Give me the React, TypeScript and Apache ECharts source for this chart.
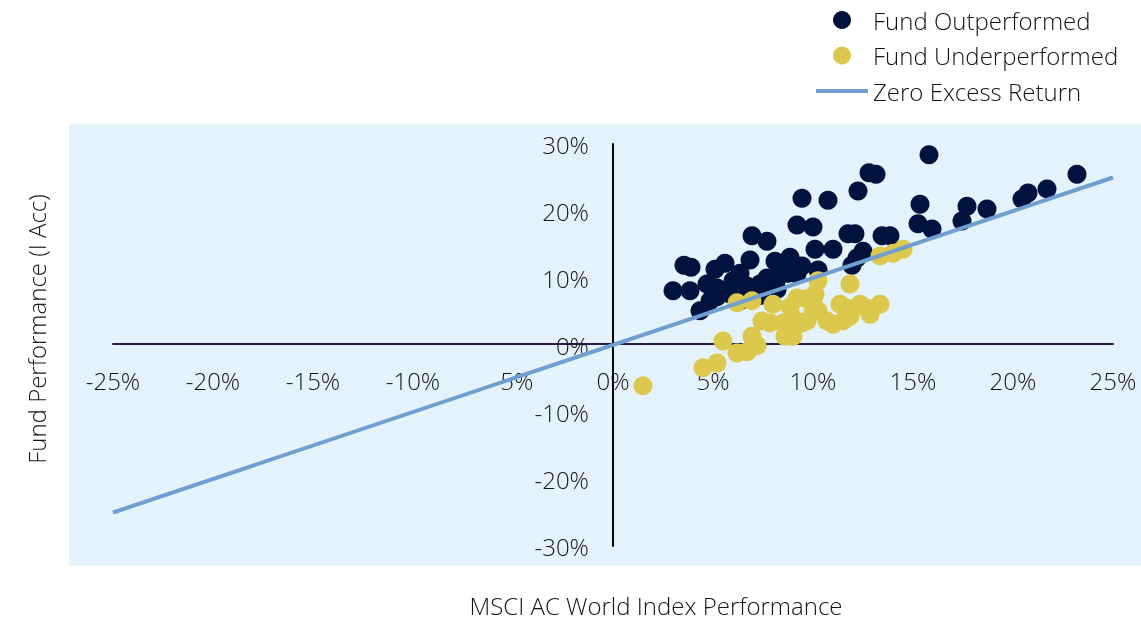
import React, { useEffect, useRef } from "react";
import * as echarts from "echarts";

const outperformed: [number, number][] = [
  [15.8, 28.4], [12.8, 25.7], [13.15, 25.5], [9.45, 21.9], [10.75, 21.6], [12.25, 23.0],
  [15.35, 21.0], [17.7, 20.7], [18.7, 20.3], [23.2, 25.5], [21.7, 23.3], [20.75, 22.7],
  [20.45, 21.8], [17.45, 18.5], [15.25, 18.1], [15.95, 17.3], [9.2, 17.9], [10.0, 17.6],
  [6.95, 16.3], [7.7, 15.5], [11.75, 16.6], [12.1, 16.6], [13.45, 16.3], [13.85, 16.3],
  [12.5, 14.0], [12.2, 13.0], [11.95, 11.9], [10.1, 14.3], [11.0, 14.3], [3.55, 11.9],
  [3.9, 11.6], [3.0, 8.1], [3.85, 8.1], [5.1, 11.3], [5.6, 12.2], [6.85, 12.7],
  [8.1, 12.5], [8.85, 13.1], [9.45, 11.8], [10.25, 11.2], [4.7, 9.1], [5.2, 8.5],
  [6.0, 9.6], [6.7, 8.8], [7.35, 9.1], [8.2, 9.9], [8.75, 10.7], [9.2, 10.6],
  [4.35, 5.1], [4.85, 6.6], [5.2, 7.2], [5.85, 7.6], [6.35, 6.6], [7.35, 7.4],
  [8.2, 8.3], [7.7, 10.0], [7.35, 8.5], [6.35, 10.7],
];

const underperformed: [number, number][] = [
  [1.5, -6.1], [4.5, -3.4], [5.2, -2.7], [5.5, 0.6], [6.2, -1.2], [6.7, -1.0],
  [6.95, 1.3], [7.2, -0.1], [6.2, 6.3], [6.95, 6.6], [7.45, 3.6], [7.85, 3.3],
  [8.0, 6.1], [8.5, 3.3], [8.85, 5.7], [9.45, 3.3], [9.7, 6.9], [10.0, 5.1],
  [8.6, 1.3], [9.0, 1.3], [10.25, 9.6], [11.85, 9.1], [13.35, 6.1], [9.2, 7.0],
  [10.0, 6.6], [11.35, 6.1], [12.35, 6.1], [9.0, 4.0], [10.25, 5.1], [10.7, 3.6],
  [11.5, 3.6], [9.7, 3.6], [11.0, 3.1], [12.7, 5.5], [11.7, 5.5], [12.85, 4.6],
  [11.85, 4.3], [13.35, 13.3], [14.0, 13.7], [14.5, 14.3], [10.1, 7.6],
];

const zeroExcess: [number, number][] = [[-25, -25], [25, 25]];

const FONT = "'Open Sans', 'Liberation Sans', sans-serif";
const TEXT = "#141414";
const FS = 24;

export default function App() {
  const ref = useRef<HTMLDivElement>(null);
  useEffect(() => {
    if (!ref.current) return;
    const chart = echarts.init(ref.current, undefined, { renderer: "svg" });
    chart.setOption({
      animation: false,
      textStyle: { fontFamily: FONT },
      graphic: [
        {
          type: "rect",
          z: -10,
          silent: true,
          shape: { x: 69, y: 124, width: 1072, height: 442 },
          style: { fill: "#e4f3fb" },
        },
        {
          type: "text",
          x: 656,
          y: 605,
          style: {
            text: "MSCI AC World Index Performance",
            fontSize: FS,
            lineHeight: 24,
            fontFamily: FONT,
            fontWeight: 300,
            fill: TEXT,
            align: "center",
            verticalAlign: "middle",
          },
        },
        {
          type: "text",
          x: 36,
          y: 329,
          rotation: Math.PI / 2,
          style: {
            text: "Fund Performance (I Acc)",
            fontSize: FS,
            lineHeight: 24,
            fontFamily: FONT,
            fontWeight: 300,
            fill: TEXT,
            align: "center",
            verticalAlign: "middle",
          },
        },
      ],
      legend: {
        orient: "vertical",
        left: 809,
        top: 3,
        itemWidth: 52,
        itemHeight: 18,
        itemGap: 11.5,
        textStyle: {
          fontSize: FS,
          lineHeight: 24,
          fontFamily: FONT,
          fontWeight: 300,
          color: TEXT,
        },
        data: [
          { name: "Fund Outperformed", icon: "circle" },
          { name: "Fund Underperformed", icon: "circle" },
          {
            name: "Zero Excess Return",
            itemStyle: { opacity: 0 },
            lineStyle: { width: 4, color: "#6f9ecf" },
          },
        ],
      },
      grid: { left: 113, right: 28, top: 144, bottom: 74 },
      xAxis: {
        type: "value",
        min: -25,
        max: 25,
        interval: 5,
        offset: -202,
        splitLine: { show: false },
        axisTick: { show: false },
        axisLine: { onZero: false, lineStyle: { color: "#2d1b45", width: 2 } },
        axisLabel: {
          formatter: (v: number) => v + "%",
          fontSize: FS,
          fontFamily: FONT,
          fontWeight: 300,
          color: TEXT,
          margin: 24,
        },
      },
      yAxis: {
        type: "value",
        min: -30,
        max: 30,
        interval: 10,
        offset: -500,
        splitLine: { show: false },
        axisTick: { show: false },
        axisLine: { onZero: false, lineStyle: { color: "#000000", width: 2 } },
        axisLabel: {
          formatter: (v: number) => v + "%",
          fontSize: FS,
          fontFamily: FONT,
          fontWeight: 300,
          color: TEXT,
          margin: 24,
        },
      },
      series: [
        {
          name: "Fund Outperformed",
          type: "scatter",
          data: outperformed,
          symbolSize: 19,
          itemStyle: { color: "#02123f", opacity: 1 },
          z: 2,
        },
        {
          name: "Fund Underperformed",
          type: "scatter",
          data: underperformed,
          symbolSize: 19,
          itemStyle: { color: "#dcc84c", opacity: 1 },
          z: 3,
        },
        {
          name: "Zero Excess Return",
          type: "line",
          data: zeroExcess,
          symbol: "none",
          lineStyle: { color: "#6f9ecf", width: 4 },
          itemStyle: { color: "#6f9ecf" },
          z: 4,
        },
      ],
    });
    return () => chart.dispose();
  }, []);
  return (
    <div
      ref={ref}
      style={{ position: "fixed", left: 0, top: 0, width: 1141, height: 620 }}
    />
  );
}
